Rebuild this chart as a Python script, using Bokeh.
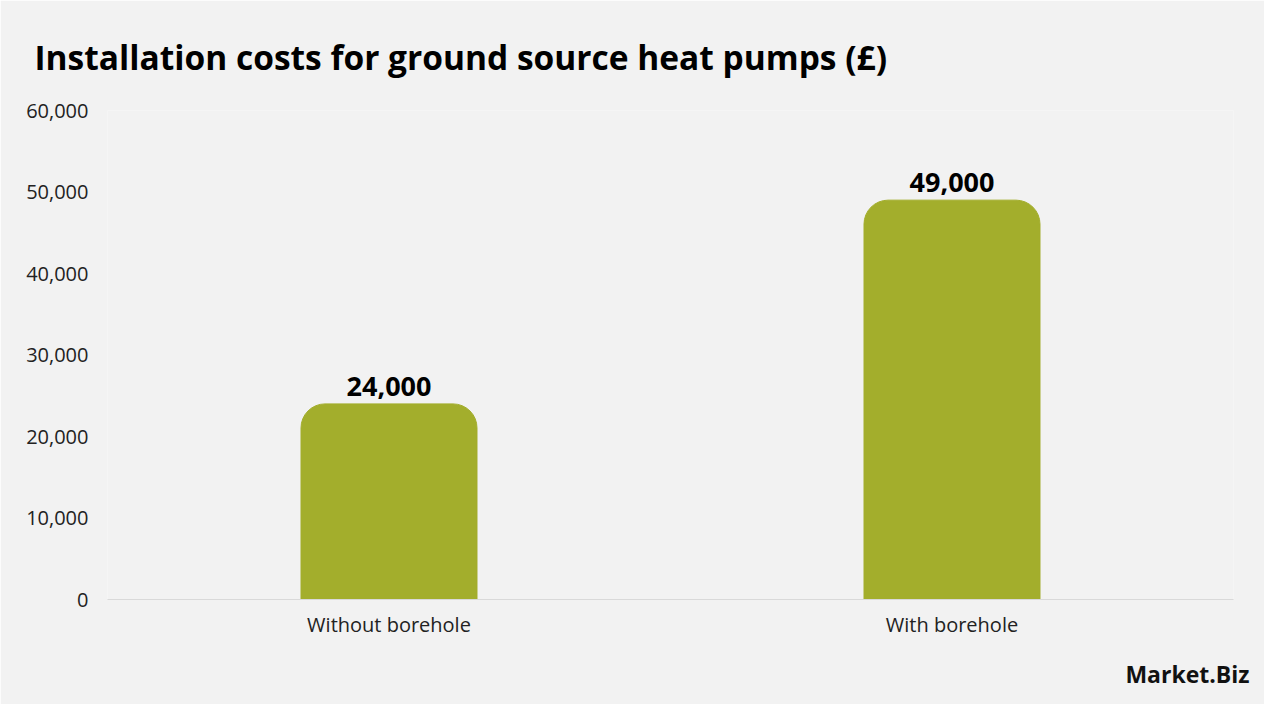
from bokeh.plotting import figure
from bokeh.models import FixedTicker, NumeralTickFormatter, Range1d, FactorRange, Title, ColumnDataSource
from bokeh.core.properties import value
from bokeh.embed import file_html
from bokeh.resources import INLINE

categories = ["Without borehole", "With borehole"]
costs = [24000, 49000]
cost_labels = ["24,000", "49,000"]
y_ticks = [0, 10000, 20000, 30000, 40000, 50000, 60000]

FONT = "Open Sans"
BG = "#f2f2f2"

src = ColumnDataSource(dict(cat=categories, cost=costs, lab=cost_labels))

p = figure(width=1264, height=704, x_range=FactorRange(*categories, range_padding=0),
           y_range=Range1d(0, 60000), output_backend="svg", toolbar_location=None,
           title="Installation costs for ground source heat pumps (£)")
p.background_fill_color = BG
p.border_fill_color = BG
p.outline_line_color = None
p.min_border_left = 107
p.min_border_right = 31
p.min_border_top = 109
p.min_border_bottom = 105

p.title.text_font = FONT
p.title.text_font_size = "33.5px"
p.title.text_font_style = "bold"
p.title.text_color = "#000000"
p.title.standoff = 62
p.title.offset = -73

p.vbar(x="cat", top="cost", width=0.3126, source=src, color="#a3ae2c",
       border_radius=(24, 24, 0, 0))
p.text(x="cat", y="cost", text="lab", source=src, text_align="center",
       text_baseline="bottom", y_offset=-8, text_font=value(FONT),
       text_font_size="27px", text_font_style="bold", text_color="#000000")

p.xgrid.grid_line_color = None
p.ygrid.grid_line_color = None

p.yaxis.ticker = FixedTicker(ticks=y_ticks)
p.yaxis.formatter = NumeralTickFormatter(format="0,0")
p.yaxis.axis_line_color = None
p.yaxis.major_tick_line_color = None
p.yaxis.minor_tick_line_color = None
p.yaxis.major_label_text_font = FONT
p.yaxis.major_label_text_font_size = "20px"
p.yaxis.major_label_text_color = "#222222"
p.yaxis.major_label_standoff = 13

p.xaxis.axis_line_color = "#d9d9d9"
p.xaxis.major_tick_line_color = None
p.xaxis.minor_tick_line_color = None
p.xaxis.major_label_text_font = FONT
p.xaxis.major_label_text_font_size = "20px"
p.xaxis.major_label_text_color = "#222222"
p.xaxis.major_label_standoff = 5

logo = Title(text="Market.Biz", align="right", text_font=FONT, text_font_size="23px",
             text_font_style="bold", text_color="#111111", standoff=30, offset=-16)
p.add_layout(logo, "below")

open("out.html", "w").write(file_html(p, INLINE))
